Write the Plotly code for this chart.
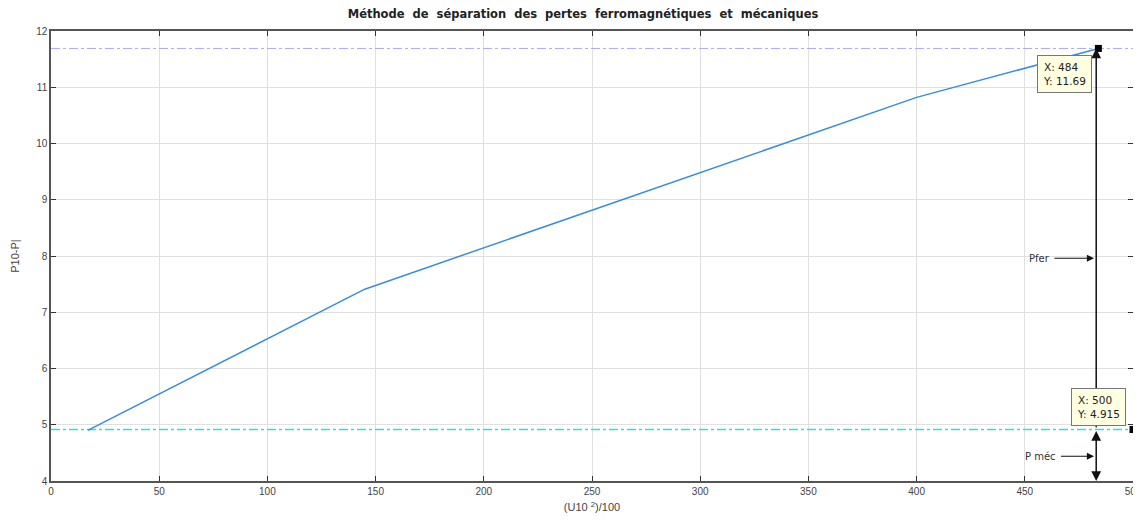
import plotly.graph_objects as go

# Data
x_vals = [17, 145, 400, 484]
y_vals = [4.9, 7.41, 10.82, 11.69]
p_fer_level = 11.69
p_mec_level = 4.915
tip1 = (484, 11.69)
tip2 = (500, 4.915)
x_ticks = [0, 50, 100, 150, 200, 250, 300, 350, 400, 450, 500]
y_ticks = [4, 5, 6, 7, 8, 9, 10, 11, 12]
arrow_x = 483

font_family = "Liberation Sans, Arial, sans-serif"
wide_font = "DejaVu Sans, sans-serif"

fig = go.Figure()

fig.add_trace(go.Scatter(x=[0, 500], y=[p_fer_level, p_fer_level], mode="lines",
                         line=dict(color="#a9a9f2", width=1, dash="dashdot"),
                         hoverinfo="skip", showlegend=False))
fig.add_trace(go.Scatter(x=[0, 500], y=[p_mec_level, p_mec_level], mode="lines",
                         line=dict(color="#33dddd", width=1.5, dash="dashdot"),
                         hoverinfo="skip", showlegend=False))
fig.add_trace(go.Scatter(x=x_vals, y=y_vals, mode="lines",
                         line=dict(color="#3a8ed8", width=1.5),
                         showlegend=False))
fig.add_trace(go.Scatter(x=[tip1[0], tip2[0]], y=[tip1[1], tip2[1]], mode="markers",
                         marker=dict(symbol="square", color="black", size=7),
                         cliponaxis=False, showlegend=False))

annotations = []
# Pfer vertical arrow
annotations.append(dict(x=arrow_x, y=p_fer_level, xref="x", yref="y",
                        ax=arrow_x, ay=p_mec_level, axref="x", ayref="y",
                        showarrow=True, arrowhead=2, arrowsize=1.3, arrowwidth=1.5,
                        arrowside="end+start", arrowcolor="#111111", text=""))
# P méc vertical double arrow
annotations.append(dict(x=arrow_x, y=4.0, xref="x", yref="y",
                        ax=arrow_x, ay=p_mec_level, axref="x", ayref="y",
                        showarrow=True, arrowhead=2, arrowsize=1.3, arrowwidth=1.5,
                        arrowside="end+start", arrowcolor="#111111", text=""))
# Pfer label arrow
annotations.append(dict(x=arrow_x - 1, y=7.96, xref="x", yref="y",
                        ax=463, ay=7.96, axref="x", ayref="y",
                        showarrow=True, arrowhead=2, arrowsize=1.2, arrowwidth=1.2,
                        arrowcolor="#111111", text=""))
annotations.append(dict(x=462.5, y=7.96, xref="x", yref="y", text="Pfer", showarrow=False,
                        xanchor="right", font=dict(size=10, color="#333", family=wide_font)))
# P méc label arrow
annotations.append(dict(x=arrow_x - 1, y=4.44, xref="x", yref="y",
                        ax=466, ay=4.44, axref="x", ayref="y",
                        showarrow=True, arrowhead=2, arrowsize=1.2, arrowwidth=1.2,
                        arrowcolor="#111111", text=""))
annotations.append(dict(x=465.5, y=4.44, xref="x", yref="y", text="P méc", showarrow=False,
                        xanchor="right", font=dict(size=10, color="#333", family=wide_font)))
# Data tips
annotations.append(dict(x=481, y=11.57, xref="x", yref="y",
                        text=f"X: {tip1[0]}<br>Y: {tip1[1]}", showarrow=False,
                        xanchor="right", yanchor="top", align="left",
                        bgcolor="#ffffe1", bordercolor="#777", borderwidth=1, borderpad=5,
                        font=dict(size=10.5, color="#222", family=wide_font)))
annotations.append(dict(x=496.8, y=5.66, xref="x", yref="y",
                        text=f"X: {tip2[0]}<br>Y: {tip2[1]}", showarrow=False,
                        xanchor="right", yanchor="top", align="left",
                        bgcolor="#ffffe1", bordercolor="#777", borderwidth=1, borderpad=5,
                        font=dict(size=10.5, color="#222", family=wide_font)))

# page body has an 8px margin: size the figure so the plot area lands where the reference has it
fig.update_layout(
    width=1133, height=512,
    margin=dict(l=43, r=8, t=23, b=39, autoexpand=False),
    paper_bgcolor="white", plot_bgcolor="white",
    title=dict(text="<b>Méthode  de  séparation  des  pertes  ferromagnétiques  et  mécaniques</b>",
               x=(583 - 8) / 1133, xanchor="center", y=1 - 2 / 512, yanchor="top",
               font=dict(size=11.5, color="#222", family=wide_font)),
    font=dict(family=font_family, size=10, color="#444"),
    annotations=annotations,
    showlegend=False,
)
fig.update_xaxes(range=[0, 500], tickvals=x_ticks, ticks="inside", ticklen=5,
                 tickcolor="#333", showline=True, linecolor="#555", linewidth=1.5,
                 mirror="ticks", showgrid=True, gridcolor="#e0e0e0", gridwidth=1,
                 zeroline=False, tickfont=dict(size=10, color="#444"), automargin=False,
                 ticklabeloverflow="allow",
                 title=dict(text="(U10 <sup>2</sup>)/100", standoff=8,
                            font=dict(size=11, color="#444")))
fig.update_yaxes(range=[4, 12], tickvals=y_ticks, ticks="inside", ticklen=5,
                 tickcolor="#333", showline=True, linecolor="#555", linewidth=1.5,
                 mirror="ticks", showgrid=True, gridcolor="#e0e0e0", gridwidth=1,
                 zeroline=False, tickfont=dict(size=10, color="#444"), automargin=False,
                 ticklabeloverflow="allow",
                 title=dict(text="P10-P|", standoff=14, font=dict(size=11, color="#444")))

fig.write_html("out.html")
